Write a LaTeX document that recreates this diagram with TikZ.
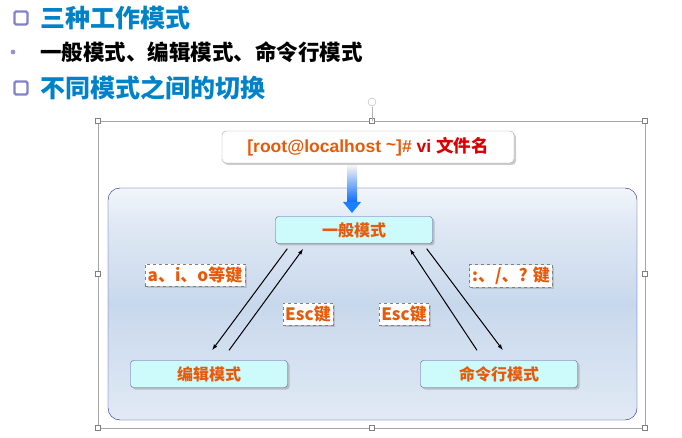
\documentclass[tikz,border=0pt]{standalone}
\usepackage{fontspec}
\setmainfont{Liberation Sans}
\newfontfamily\cjk{Noto Sans CJK SC}
\usetikzlibrary{shadows,arrows.meta,calc}
\definecolor{ttl}{RGB}{0,130,200}
\definecolor{org}{RGB}{230,90,10}
\definecolor{cyanbox}{RGB}{205,250,250}
\definecolor{frameblue}{RGB}{30,30,160}
\definecolor{bgmid}{RGB}{200,216,236}
\pgfdeclareverticalshading{bgshade}{100bp}{color(0bp)=(bgmid!45);color(20bp)=(bgmid!45);color(50bp)=(bgmid);color(68bp)=(bgmid!55);color(80bp)=(white);color(100bp)=(white)}
\begin{document}
\begin{tikzpicture}[x=1pt,y=-1pt,
  sq/.style={draw=blue!40!gray!70,line width=2.2pt,rounded corners=1.5pt,minimum size=13pt,inner sep=0pt,fill=white},
  ttltext/.style={anchor=west,inner sep=0pt,font=\cjk\bfseries\fontsize{25}{28}\selectfont,text=ttl},
  mode/.style={draw=gray!70!blue,rounded corners=3pt,fill=cyanbox,minimum width=157pt,minimum height=27pt,inner sep=0pt,font=\cjk\bfseries\fontsize{16}{18}\selectfont,text=org,drop shadow={shadow xshift=2pt,shadow yshift=-2pt,opacity=0.4}},
  keylab/.style={draw=gray,dashed,fill=white,inner sep=2.5pt,font=\cjk\bfseries\fontsize{17}{19}\selectfont,text=org,drop shadow={shadow xshift=2pt,shadow yshift=-2pt,opacity=0.3}},
  handle/.style={draw=gray,fill=white,minimum size=5pt,inner sep=0pt},
  conn/.style={-{Latex[length=6pt,width=4pt]},line width=1pt}]
\useasboundingbox (0,0) rectangle (682,438);
% headings
\node[sq] (s1) at (21,18) {};
\node[ttltext] (t1) at (40,18) {三种工作模式};
\fill[blue!40!gray!60] (13,52) circle (2.4pt);
\node[anchor=west,inner sep=0pt,font=\cjk\bfseries\fontsize{21.5}{24}\selectfont] (t2) at (40,52) {一般模式、编辑模式、命令行模式};
\node[sq] (s2) at (21,88) {};
\node[ttltext] (t3) at (40,88) {不同模式之间的切换};
% selection frame
\draw[gray!70] (98,121) rectangle (645,428);
\foreach \p in {(98,121),(372,121),(645,121),(98,274),(645,274),(98,428),(372,428),(645,428)} \node[handle] at \p {};
\draw[gray!60] (372,102) circle (4pt);
\draw[gray!60] (372,107) -- (372,121);
% big box
\shade[shading=bgshade,rounded corners=12pt] (108,188) rectangle (637,420);
\draw[frameblue,rounded corners=12pt] (108,188) rectangle (637,420);
% top command box
\node[draw=gray!70,rounded corners=4pt,fill=white,minimum width=292pt,minimum height=32pt,drop shadow={shadow xshift=2pt,shadow yshift=-2pt,opacity=0.4},font=\bfseries\fontsize{17.5}{20}\selectfont] (cmd) at (368,147) {\textcolor{org}{[root@localhost \raisebox{2pt}{\~{}}]\#} \textcolor{red!85!black}{vi \cjk 文件名}};
% gradient arrow
\node[mode] (gen) at (354,230) {一般模式};
\shade[top color=gray!10,bottom color=blue!60!cyan] (347,166) rectangle (357,204);
\fill[blue!55!cyan!90] (343,202) -- (361,202) -- (352,213) -- cycle;
\node[mode] (edit) at (209,374) {编辑模式};
\node[mode] (cmdm) at (499,374) {命令行模式};
% labels
\node[keylab] (k1) at (195,275) {a、i、o等键};
\node[keylab] (k2) at (308,314) {Esc键};
\node[keylab] (k3) at (404,314) {Esc键};
\node[keylab] (k4) at (511,276) {:、/、? 键};
% arrows
\coordinate (a1) at ($(gen.south west)+(12,5)$);
\coordinate (b1) at ($(edit.north)+(3,-10)$);
\coordinate (a2) at ($(edit.north)+(20,-10)$);
\coordinate (b2) at ($(gen.south west)+(28,5)$);
\coordinate (a3) at ($(cmdm.north)+(-22,-10)$);
\coordinate (b3) at ($(gen.south east)+(-23,5)$);
\coordinate (a4) at ($(gen.south east)+(-6,5)$);
\coordinate (b4) at ($(cmdm.north)+(4,-10)$);
\draw[conn] (a1) -- (b1);
\draw[conn] (a2) -- (b2);
\draw[conn] (a3) -- (b3);
\draw[conn] (a4) -- (b4);
\end{tikzpicture}
\end{document}
